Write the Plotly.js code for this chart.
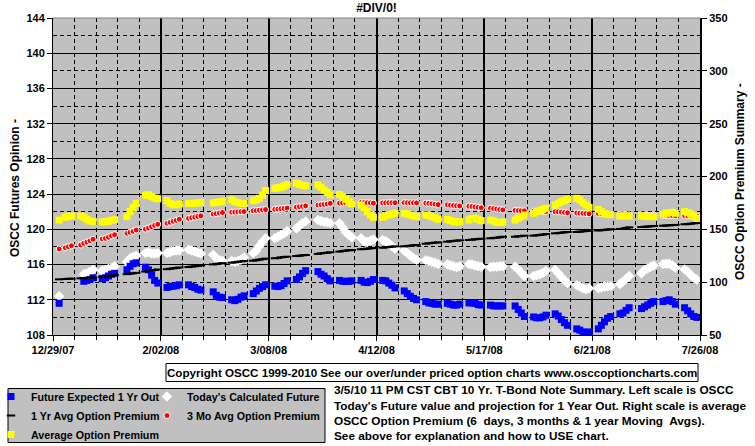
<!DOCTYPE html>
<html>
<head>
<meta charset="utf-8">
<script src="https://cdn.plot.ly/plotly-3.0.1.min.js"></script>
<style>html,body{margin:0;padding:0;background:#fff;}#chart{width:755px;height:446px;}</style>
</head>
<body>
<div id="chart"></div>
<script>
// Trading days (holidays skipped)
const dates = [
 "2007-12-31","2008-01-02","2008-01-03","2008-01-04",
 "2008-01-07","2008-01-08","2008-01-09","2008-01-10","2008-01-11",
 "2008-01-14","2008-01-15","2008-01-16","2008-01-17","2008-01-18",
 "2008-01-22","2008-01-23","2008-01-24","2008-01-25",
 "2008-01-28","2008-01-29","2008-01-30","2008-01-31","2008-02-01",
 "2008-02-04","2008-02-05","2008-02-06","2008-02-07","2008-02-08",
 "2008-02-11","2008-02-12","2008-02-13","2008-02-14","2008-02-15",
 "2008-02-19","2008-02-20","2008-02-21","2008-02-22",
 "2008-02-25","2008-02-26","2008-02-27","2008-02-28","2008-02-29",
 "2008-03-03","2008-03-04","2008-03-05","2008-03-06","2008-03-07",
 "2008-03-10","2008-03-11","2008-03-12","2008-03-13","2008-03-14",
 "2008-03-17","2008-03-18","2008-03-19","2008-03-20",
 "2008-03-24","2008-03-25","2008-03-26","2008-03-27","2008-03-28",
 "2008-03-31","2008-04-01","2008-04-02","2008-04-03","2008-04-04",
 "2008-04-07","2008-04-08","2008-04-09","2008-04-10","2008-04-11",
 "2008-04-14","2008-04-15","2008-04-16","2008-04-17","2008-04-18",
 "2008-04-21","2008-04-22","2008-04-23","2008-04-24","2008-04-25",
 "2008-04-28","2008-04-29","2008-04-30","2008-05-01","2008-05-02",
 "2008-05-05","2008-05-06","2008-05-07","2008-05-08","2008-05-09",
 "2008-05-12","2008-05-13","2008-05-14","2008-05-15","2008-05-16",
 "2008-05-19","2008-05-20","2008-05-21","2008-05-22","2008-05-23",
 "2008-05-27","2008-05-28","2008-05-29","2008-05-30",
 "2008-06-02","2008-06-03","2008-06-04","2008-06-05","2008-06-06",
 "2008-06-09","2008-06-10","2008-06-11","2008-06-12","2008-06-13",
 "2008-06-16","2008-06-17","2008-06-18","2008-06-19","2008-06-20",
 "2008-06-23","2008-06-24","2008-06-25","2008-06-26","2008-06-27",
 "2008-06-30","2008-07-01","2008-07-02","2008-07-03",
 "2008-07-07","2008-07-08","2008-07-09","2008-07-10","2008-07-11",
 "2008-07-14","2008-07-15","2008-07-16","2008-07-17","2008-07-18",
 "2008-07-21","2008-07-22","2008-07-23","2008-07-24","2008-07-25"
];

// Left scale: OSCC futures opinion
const futureExpected1YrOut = [
 111.6,null,null,null,
 null,114.1,114.2,114.3,114.5,
 114.4,114.5,114.7,114.9,115.0,
 115.4,115.8,116.1,116.2,
 115.7,115.4,114.8,114.2,113.9,
 113.4,113.5,113.55,113.6,113.7,
 113.7,113.5,113.4,113.2,113.1,
 112.9,112.5,112.3,112.25,
 112.0,111.9,112.05,112.3,112.45,
 112.7,113.0,113.3,113.5,113.7,
 113.55,113.5,113.6,113.85,114.15,
 114.3,114.6,115.0,115.3,
 115.2,114.9,114.7,114.4,114.15,
 114.2,114.1,114.1,114.1,114.15,
 114.2,114.0,113.95,114.1,114.3,
 114.2,114.15,113.9,113.65,113.35,
 113.0,112.7,112.4,112.15,112.0,
 111.8,111.65,111.6,111.5,111.5,
 111.6,111.5,111.4,111.4,111.5,
 111.65,111.65,111.6,111.45,111.4,
 111.4,111.3,111.3,111.3,111.3,
 111.3,110.9,110.5,110.1,
 110.05,109.95,109.95,110.05,110.25,
 110.4,110.15,109.75,109.4,109.1,
 108.7,108.55,108.35,108.25,108.35,
 108.7,109.1,109.5,109.9,110.1,
 110.4,110.5,110.8,111.1,
 111.0,111.2,111.4,111.6,111.8,
 111.8,111.9,112.0,111.8,111.5,
 111.1,110.75,110.4,110.1,110.0
];
const todaysCalculatedFuture = [
 112.4,null,null,null,
 null,114.9,115.0,115.2,115.4,
 115.3,115.4,115.5,115.6,115.8,
 116.3,116.7,116.9,117.0,
 117.3,117.4,117.25,117.25,117.3,
 117.3,117.4,117.55,117.6,117.6,
 117.7,117.6,117.5,117.35,117.25,
 117.1,116.7,116.5,116.4,
 116.4,116.3,116.4,116.55,116.8,
 117.3,117.6,118.1,118.6,119.0,
 119.0,119.15,119.35,119.55,119.8,
 120.1,120.4,120.7,120.9,
 121.05,120.95,120.85,120.8,120.7,
 120.7,120.2,119.7,119.35,119.1,
 119.0,118.65,118.6,118.7,118.85,
 118.8,118.65,118.4,118.1,117.8,
 117.6,117.3,117.0,116.75,116.55,
 116.5,116.4,116.3,116.2,116.05,
 116.0,115.9,115.8,115.7,115.8,
 116.05,116.0,115.9,115.8,115.75,
 115.7,115.75,115.75,115.8,115.8,
 115.75,115.45,115.05,114.7,
 114.7,114.8,114.9,115.05,115.3,
 115.4,115.0,114.6,114.2,113.9,
 113.65,113.5,113.3,113.2,113.3,
 113.3,113.4,113.5,113.5,113.55,
 113.8,114.05,114.4,114.7,
 115.0,115.4,115.55,115.75,115.9,
 116.05,116.1,116.1,115.9,115.65,
 115.45,115.2,114.8,114.5,114.3
];

// Right scale: OSCC option premium summary
const oneYrAvgPremium = [
 102.7,103.0,103.2,103.3,
 103.6,103.8,104.0,104.2,104.4,
 105.0,105.4,105.8,106.2,106.6,
 107.6,108.0,108.4,108.8,
 110.0,110.5,111.0,111.5,112.0,
 112.3,112.7,113.1,113.5,113.9,
 114.3,114.7,115.1,115.5,115.9,
 116.8,117.2,117.6,118.0,
 118.4,118.8,119.2,119.6,120.0,
 120.3,120.8,121.3,121.8,122.3,
 122.6,122.9,123.5,123.8,124.1,
 124.7,125.0,125.4,125.7,
 126.7,127.3,127.6,127.9,128.3,
 128.9,129.5,129.8,130.2,130.4,
 131.1,131.4,131.7,132.0,132.3,
 132.6,133.0,133.3,133.6,133.9,
 133.9,134.2,134.5,134.9,135.2,
 136.4,136.8,137.1,137.4,137.7,
 138.3,138.7,139.0,139.3,139.6,
 139.9,140.2,140.6,140.9,141.1,
 141.5,141.8,142.1,142.5,143.0,
 143.0,143.4,143.7,144.0,
 144.0,144.4,144.7,145.0,145.6,
 146.2,146.5,146.8,147.2,147.5,
 147.5,147.8,148.1,148.4,148.7,
 148.9,149.2,149.5,149.8,150.1,
 150.3,150.6,151.3,151.9,
 152.2,152.4,152.6,152.9,153.2,
 153.4,153.6,153.8,154.0,154.2,
 154.8,155.0,155.3,155.7,156.0
];
const threeMoAvgPremium = [
 131.4,132.6,133.6,134.5,
 135.2,136.7,138.0,139.2,140.6,
 140.9,141.5,142.5,144.0,144.9,
 146.2,147.2,148.1,149.4,
 150.3,151.3,152.5,153.8,154.8,
 155.7,156.7,157.6,158.5,159.5,
 160.4,161.0,161.6,162.2,162.8,
 164.4,164.9,165.4,165.9,
 166.2,166.4,166.6,166.7,166.8,
 167.6,167.8,168.1,168.4,168.7,
 168.9,169.2,169.5,169.8,170.1,
 171.0,171.4,171.8,172.2,
 173.0,173.3,173.6,174.0,174.6,
 174.8,175.0,175.1,175.2,175.3,
 175.3,175.3,175.1,175.0,174.8,
 175.0,175.1,175.2,175.2,175.2,
 175.2,175.2,175.1,175.1,175.0,
 174.8,174.5,174.2,173.8,173.4,
 173.2,172.9,172.6,172.3,172.1,
 171.9,171.6,171.2,170.8,170.4,
 170.0,169.6,169.2,168.8,168.4,
 167.9,167.7,167.6,167.5,
 167.3,167.2,167.1,167.0,166.9,
 166.7,166.6,166.3,166.0,165.7,
 165.5,165.3,165.1,164.9,164.7,
 165.0,164.8,164.6,164.4,164.2,
 164.0,163.9,163.8,163.7,
 163.6,163.5,163.4,163.3,163.2,
 163.2,163.1,163.0,163.0,162.9,
 162.9,162.8,162.7,162.6,162.5
];
const avgOptionPremium = [
 158.8,161.4,162.3,162.6,
 162.6,161.4,159.5,157.9,157.2,
 156.9,157.2,157.6,158.5,159.1,
 162.0,166.7,170.8,174.6,
 182.2,182.8,180.9,179.6,178.9,
 177.1,174.6,173.3,173.3,174.0,
 174.5,174.6,174.6,175.0,175.5,
 175.0,175.5,175.8,176.5,
 177.8,176.2,175.2,174.6,174.6,
 177.1,177.8,179.4,182.5,186.6,
 188.8,189.4,189.8,191.0,192.3,
 193.6,192.6,191.6,191.0,
 192.0,189.8,187.2,185.0,182.5,
 183.0,181.0,178.5,176.0,174.0,
 173.0,169.9,166.7,163.6,161.4,
 161.4,162.6,163.6,164.5,165.2,
 165.2,164.5,163.6,162.6,162.0,
 163.6,162.9,162.0,161.0,159.5,
 159.5,158.2,157.2,156.9,157.2,
 158.8,160.4,160.4,159.5,158.2,
 158.8,157.9,156.6,156.3,156.9,
 158.8,160.4,162.0,163.6,
 165.2,166.7,167.6,168.9,169.9,
 173.0,174.6,176.2,177.1,178.4,
 179.4,177.8,175.2,173.0,170.8,
 168.9,166.7,165.2,164.2,163.9,
 162.5,162.5,162.5,162.5,
 162.6,162.4,162.2,162.0,162.0,
 164.2,165.2,165.8,166.1,165.2,
 166.7,165.8,164.5,162.6,160.4
];

const seriesNames = ["Future Expected 1 Yr Out","Today's Calculated Future","1 Yr Avg Option Premium","3 Mo Avg Option Premium","Average Option Premium"];
const xTickFormat = "%-m/%d/%y";
const titleText = "#DIV/0!";
const leftTitle = "OSCC Futures Opinion -";
const rightTitle = "OSCC Option Premium Summary -";
const copyrightText = "Copyright OSCC 1999-2010 See our over/under priced option charts www.osccoptioncharts.com";
const noteLines = [
 "3/5/10 11 PM CST CBT 10 Yr. T-Bond Note Summary. Left scale is OSCC",
 "Today's Future value and projection for 1 Year Out. Right scale is average",
 "OSCC Option Premium (6  days, 3 months &amp; 1 year Moving  Avgs).",
 "See above for explanation and how to USE chart."
];

const FONT = '"Liberation Sans", Arial, sans-serif';
const W = 755, H = 446, ML = 53, MR = 55, MT = 18, MB = 111;
const PW = W - ML - MR, PH = H - MT - MB;
const px = x => (x - ML) / PW;
const py = y => 1 - (y - MT) / PH;
const DAY = 86400000;

const data = [
 {x: dates, y: todaysCalculatedFuture, name: seriesNames[1], type: 'scatter', mode: 'markers', yaxis: 'y', legend: 'legend2',
  marker: {symbol: 'diamond', size: 8, color: '#FFFFFF', line: {width: 0}}},
 {x: dates, y: futureExpected1YrOut, name: seriesNames[0], type: 'scatter', mode: 'markers', yaxis: 'y', legend: 'legend',
  marker: {symbol: 'square', size: 7, color: '#0000FF', line: {width: 0}}},
 {x: dates, y: oneYrAvgPremium, name: seriesNames[2], type: 'scatter', mode: 'markers', yaxis: 'y2', legend: 'legend',
  marker: {symbol: 'line-ew', size: 6, color: '#000000', line: {width: 2, color: '#000000'}}},
 {x: dates, y: threeMoAvgPremium, name: seriesNames[3], type: 'scatter', mode: 'markers', yaxis: 'y2', legend: 'legend2',
  marker: {symbol: 'circle', size: 6, color: '#FF0000', line: {width: 1, color: '#FFFFFF'}}},
 {x: dates, y: avgOptionPremium, name: seriesNames[4], type: 'scatter', mode: 'markers', yaxis: 'y2', legend: 'legend',
  marker: {symbol: 'square', size: 7, color: '#FFFF00', line: {width: 0}}}
];

const legendCommon = {
 xref: 'container', yref: 'container', xanchor: 'left', yanchor: 'top',
 bgcolor: 'rgba(0,0,0,0)', borderwidth: 0, tracegroupgap: 0, itemwidth: 30, indentation: -15,
 font: {family: FONT, size: 10.7, color: '#000', weight: 'bold'}, itemclick: false, itemdoubleclick: false
};

const layout = {
 width: W, height: H,
 margin: {l: ML, r: MR, t: MT, b: MB, pad: 0, autoexpand: false},
 paper_bgcolor: '#FFFFFF', plot_bgcolor: '#C0C0C0',
 font: {family: FONT, size: 11, color: '#000', weight: 'bold'},
 showlegend: true,
 title: {text: titleText, x: 0.5, xref: 'paper', xanchor: 'center', y: 1 - 8 / H, yref: 'container', yanchor: 'middle',
  font: {family: FONT, size: 12, color: '#000', weight: 'bold'}},
 xaxis: {type: 'date', range: ['2007-12-29', '2008-07-26'], tick0: '2007-12-29', dtick: 35 * DAY, tickformat: xTickFormat,
  showgrid: true, gridcolor: '#000', gridwidth: 2, zeroline: false,
  ticks: 'outside', ticklen: 5, tickcolor: '#000', showline: true, linecolor: '#000', linewidth: 1,
  tickfont: {family: FONT, size: 11, color: '#000', weight: 'bold'},
  minor: {tick0: '2007-12-29', dtick: 7 * DAY, showgrid: true, gridcolor: '#000', gridwidth: 1, griddash: '4px,3px',
   ticks: 'outside', ticklen: 4, tickcolor: '#000'}},
 yaxis: {range: [108, 144], tick0: 108, dtick: 4, showgrid: true, gridcolor: '#000', gridwidth: 1, zeroline: false,
  ticks: 'outside', ticklen: 5, tickcolor: '#000', showline: true, linecolor: '#000', linewidth: 1,
  tickfont: {family: FONT, size: 11, color: '#000', weight: 'bold'},
  minor: {tick0: 108, dtick: 2, showgrid: true, gridcolor: '#000', gridwidth: 1, griddash: '4px,3px'}},
 yaxis2: {overlaying: 'y', side: 'right', range: [50, 350], tick0: 50, dtick: 50, showgrid: false, zeroline: false,
  ticks: 'outside', ticklen: 5, tickcolor: '#000', showline: true, linecolor: '#000', linewidth: 2,
  tickfont: {family: FONT, size: 11, color: '#000', weight: 'bold'}},
 legend: Object.assign({}, legendCommon, {x: 6 / W, y: 1 - 382 / H}),
 legend2: Object.assign({}, legendCommon, {x: 162 / W, y: 1 - 382 / H}),
 shapes: [
  {type: 'line', xref: 'paper', yref: 'paper', x0: 0, x1: 1, y0: 1, y1: 1, line: {color: '#808080', width: 1}},
  {type: 'rect', xref: 'paper', yref: 'paper', x0: px(166), x1: px(698), y0: py(381.5), y1: py(363.5),
   fillcolor: '#FFFFFF', line: {color: '#000', width: 1}},
  {type: 'rect', xref: 'paper', yref: 'paper', x0: px(8), x1: px(325), y0: py(442.5), y1: py(388.5),
   fillcolor: '#C0C0C0', line: {color: '#000', width: 1}}
 ],
 annotations: [
  {text: leftTitle, xref: 'paper', yref: 'paper', x: px(15), y: py(188), xanchor: 'center', yanchor: 'middle',
   textangle: -90, showarrow: false, font: {family: FONT, size: 12, color: '#000', weight: 'bold'}},
  {text: rightTitle, xref: 'paper', yref: 'paper', x: px(740), y: py(182), xanchor: 'center', yanchor: 'middle',
   textangle: -90, showarrow: false, font: {family: FONT, size: 12, color: '#000', weight: 'bold'}},
  {text: copyrightText, xref: 'paper', yref: 'paper', x: px(432), y: py(372.5), xanchor: 'center', yanchor: 'middle',
   showarrow: false, font: {family: FONT, size: 11.6, color: '#000', weight: 'bold'}}
 ].concat(noteLines.map((t, i) => ({
   text: t, xref: 'paper', yref: 'paper', x: px(332), y: py([390, 405.5, 421, 436][i]), xanchor: 'left', yanchor: 'middle',
   showarrow: false, align: 'left', font: {family: FONT, size: 11.8, color: '#000', weight: 'bold'}
 })))
};

Plotly.newPlot('chart', data, layout, {staticPlot: true, displayModeBar: false});
</script>
</body>
</html>
